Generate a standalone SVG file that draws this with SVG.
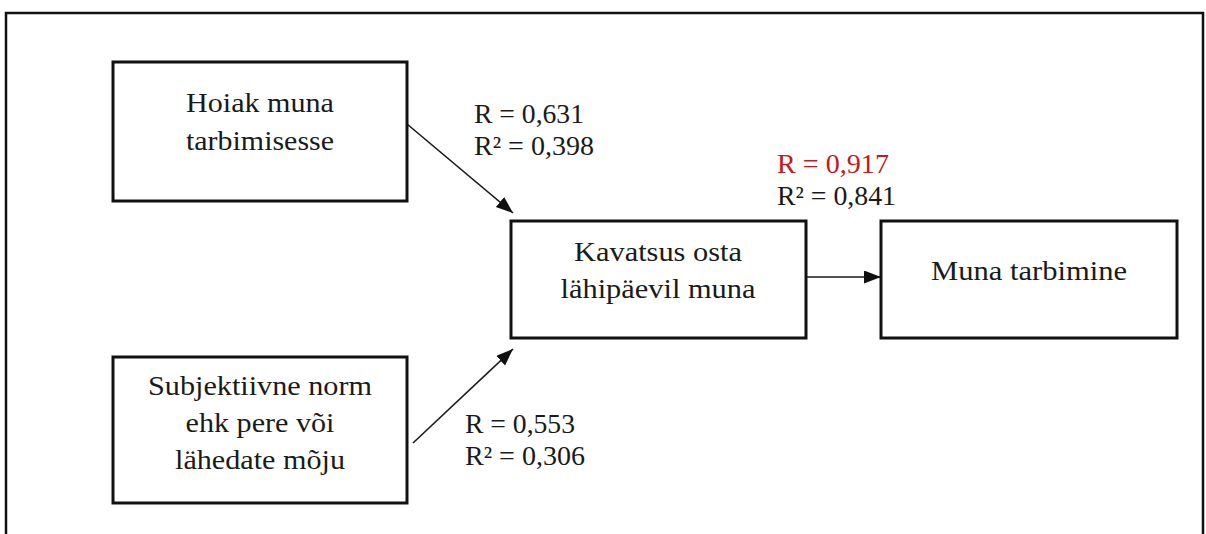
<svg xmlns="http://www.w3.org/2000/svg" width="1206" height="534" viewBox="0 0 1206 534">
<style>
.frame{fill:none;stroke:#111;stroke-width:2.5}
.box{fill:#fff;stroke:#111;stroke-width:3}
.t{font-family:"Liberation Serif","Times New Roman",serif;font-size:27px;fill:#1a1a1a;text-anchor:middle}
.l{font-family:"Liberation Serif","Times New Roman",serif;font-size:27px;fill:#1a1a1a}
.red{fill:#c8161d}
.conn{stroke:#1a1a1a;stroke-width:1.6;fill:none;marker-end:url(#ah)}
</style>
<defs>
<marker id="ah" markerUnits="userSpaceOnUse" markerWidth="18" markerHeight="14" refX="17" refY="6.5" orient="auto">
<path d="M0,0 L17,6.5 L0,13 z" fill="#111"/>
</marker>
</defs>
<rect width="1206" height="534" fill="#fff"/>
<path class="frame" d="M6,540 V13 H1203 V540"/>
<g id="connectors">
<line class="conn" x1="407" y1="124" x2="513" y2="213"/>
<line class="conn" x1="413" y1="443" x2="513" y2="349"/>
<line class="conn" x1="806" y1="277" x2="881" y2="277"/>
</g>
<g id="labels">
<text class="l" x="474" y="123" textLength="110" lengthAdjust="spacingAndGlyphs">R = 0,631</text>
<text class="l" x="474" y="155" textLength="120" lengthAdjust="spacingAndGlyphs">R² = 0,398</text>
<text class="l red" x="777" y="173" textLength="112" lengthAdjust="spacingAndGlyphs">R = 0,917</text>
<text class="l" x="777" y="205" textLength="119" lengthAdjust="spacingAndGlyphs">R² = 0,841</text>
<text class="l" x="465" y="433" textLength="110" lengthAdjust="spacingAndGlyphs">R = 0,553</text>
<text class="l" x="465" y="465" textLength="120" lengthAdjust="spacingAndGlyphs">R² = 0,306</text>
</g>
<g id="node-hoiak">
<rect class="box" x="113" y="62" width="294" height="139"/>
<text class="t" x="260" y="112" textLength="148" lengthAdjust="spacingAndGlyphs">Hoiak muna</text>
<text class="t" x="260" y="150" textLength="148" lengthAdjust="spacingAndGlyphs">tarbimisesse</text>
</g>
<g id="node-subjektiivne">
<rect class="box" x="113" y="357" width="294" height="146"/>
<text class="t" x="260" y="395" textLength="224" lengthAdjust="spacingAndGlyphs">Subjektiivne norm</text>
<text class="t" x="260" y="432" textLength="149" lengthAdjust="spacingAndGlyphs">ehk pere või</text>
<text class="t" x="260" y="469" textLength="170" lengthAdjust="spacingAndGlyphs">lähedate mõju</text>
</g>
<g id="node-kavatsus">
<rect class="box" x="511" y="221" width="295" height="117"/>
<text class="t" x="658" y="261" textLength="168" lengthAdjust="spacingAndGlyphs">Kavatsus osta</text>
<text class="t" x="658" y="298" textLength="195" lengthAdjust="spacingAndGlyphs">lähipäevil muna</text>
</g>
<g id="node-tarbimine">
<rect class="box" x="881" y="221" width="296" height="117"/>
<text class="t" x="1029" y="280" textLength="196" lengthAdjust="spacingAndGlyphs">Muna tarbimine</text>
</g>
</svg>
